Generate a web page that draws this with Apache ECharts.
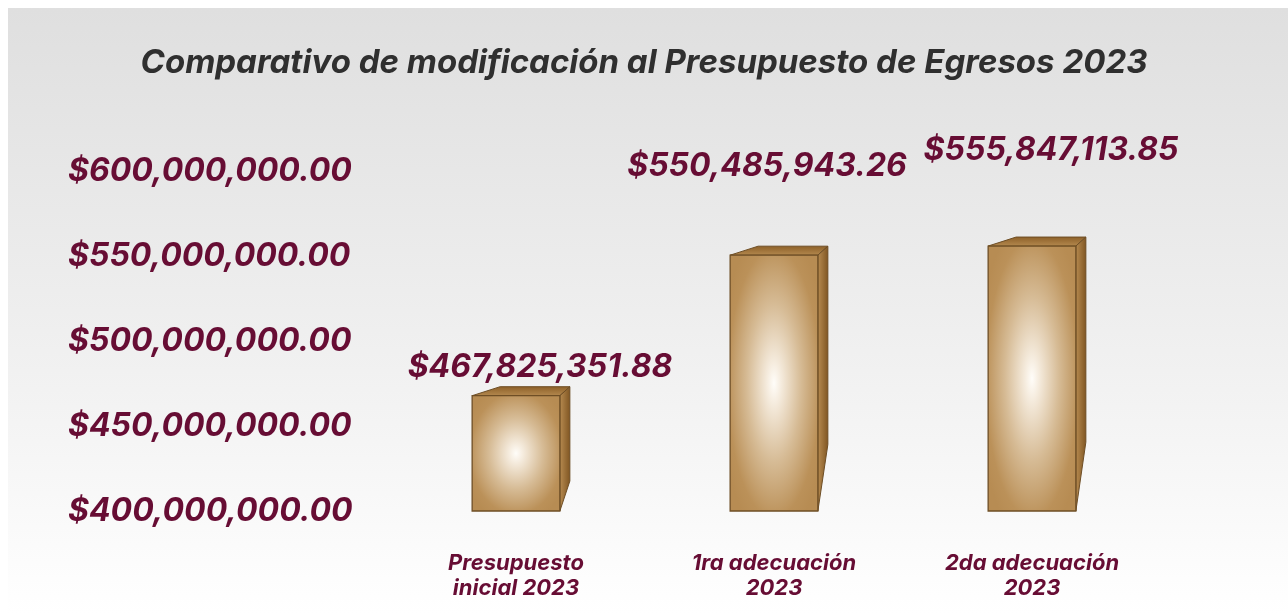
<!DOCTYPE html>
<html><head><meta charset="utf-8">
<script src="https://cdn.jsdelivr.net/npm/echarts@6/dist/echarts.min.js"></script>
<style>html,body{margin:0;padding:0;background:#fff}#c{width:1288px;height:614px}</style>
</head><body><div id="c"></div>
<script>
const categories = ['Presupuesto\ninicial 2023', '1ra adecuación\n2023', '2da adecuación\n2023'];
const values = [467825351.88, 550485943.26, 555847113.85];
const valueLabels = ['$467,825,351.88', '$550,485,943.26', '$555,847,113.85'];
const yTicks = [400000000, 450000000, 500000000, 550000000, 600000000];
const yTickLabels = ['$400,000,000.00', '$450,000,000.00', '$500,000,000.00', '$550,000,000.00', '$600,000,000.00'];

const GUINDA = '#670d34';
const FONT = 'Inter, "Open Sans", sans-serif';
// label placement relative to the bar's front-top centre (layout only)
const labelShift = [[24, -28], [-7, -89], [19, -96]];

function renderItem(params, api) {
  const idx = api.value(0);
  const val = api.value(1);
  const top = api.coord([idx, val]);
  const base = api.coord([idx, yTicks[0]]);
  const band = api.size([1, 0])[0];
  const w = band * 0.34;
  const x0 = top[0] - w / 2, x1 = top[0] + w / 2;
  const y0 = top[1], y1 = base[1];
  const h = y1 - y0;
  const dxb = 28, dxr = 10, dy = 9;
  const sideDrop = h * 0.26;
  const edge = '#6e4e25';
  const sh = labelShift[idx] || [0, -30];
  return {
    type: 'group',
    children: [
      {
        type: 'polygon',
        shape: { points: [[x0, y0], [x0 + dxb, y0 - dy], [x1 + dxr, y0 - dy], [x1, y0]] },
        style: {
          fill: new echarts.graphic.LinearGradient(0, 0, 0, 1, [
            { offset: 0, color: '#8c5f27' }, { offset: 1, color: '#b58a50' }
          ]),
          stroke: edge, lineWidth: 1
        }
      },
      {
        type: 'polygon',
        shape: { points: [[x1, y0], [x1 + dxr, y0 - dy], [x1 + dxr, y1 - sideDrop], [x1, y1]] },
        style: {
          fill: new echarts.graphic.LinearGradient(0, 0, 1, 0, [
            { offset: 0, color: '#b98d52' }, { offset: 1, color: '#7e5421' }
          ]),
          stroke: edge, lineWidth: 1
        }
      },
      {
        type: 'rect',
        x: x0, y: y0, scaleX: 1, scaleY: h / w,
        shape: { x: 0, y: 0, width: w, height: w },
        style: {
          fill: new echarts.graphic.RadialGradient(0.5, 0.5, 0.62, [
            { offset: 0, color: '#fffdf9' },
            { offset: 0.12, color: '#f6ede0' },
            { offset: 0.5, color: '#d6bb95' },
            { offset: 0.85, color: '#bb9159' },
            { offset: 1, color: '#b78c53' }
          ])
        }
      },
      {
        type: 'rect',
        shape: { x: x0, y: y0, width: w, height: h },
        style: { fill: 'none', stroke: edge, lineWidth: 1.3 }
      },
      {
        type: 'text',
        x: top[0] + sh[0], y: y0 + sh[1],
        style: {
          text: valueLabels[idx],
          fill: GUINDA,
          font: 'italic bold 32px ' + FONT,
          align: 'center', verticalAlign: 'middle'
        }
      }
    ]
  };
}

const chart = echarts.init(document.getElementById('c'), null, { renderer: 'canvas' });
chart.setOption({
  animation: false,
  backgroundColor: '#ffffff',
  graphic: [{
    type: 'rect', z: -10, silent: true,
    shape: { x: 8, y: 8, width: 1280, height: 606 },
    style: {
      fill: new echarts.graphic.LinearGradient(0, 0, 0, 1, [
        { offset: 0, color: '#dfdfdf' }, { offset: 0.6, color: '#f1f1f1' }, { offset: 1, color: '#ffffff' }
      ])
    }
  }],
  title: {
    text: 'Comparativo de modificación al Presupuesto de Egresos 2023',
    left: 'center', top: 42,
    textStyle: { fontFamily: FONT, fontStyle: 'italic', fontWeight: 'bold', fontSize: 33, color: '#2f2f2f' }
  },
  grid: { left: 387, right: 127, top: 171, bottom: 103 },
  xAxis: {
    type: 'category', data: categories,
    axisLine: { show: false }, axisTick: { show: false }, splitLine: { show: false },
    axisLabel: {
      margin: 40, fontFamily: FONT, fontStyle: 'italic', fontWeight: 'bold',
      fontSize: 22, lineHeight: 25, color: GUINDA
    }
  },
  yAxis: {
    type: 'value', min: yTicks[0], max: yTicks[yTicks.length - 1], interval: yTicks[1] - yTicks[0],
    axisLine: { show: false }, axisTick: { show: false }, splitLine: { show: false },
    axisLabel: {
      align: 'left', margin: 319, padding: [0, 0, 8, 0],
      fontFamily: FONT, fontStyle: 'italic', fontWeight: 'bold', fontSize: 32, color: GUINDA,
      formatter: function (v) { const i = yTicks.indexOf(v); return i >= 0 ? yTickLabels[i] : ''; }
    }
  },
  series: [{
    type: 'custom',
    clip: false,
    renderItem: renderItem,
    encode: { x: 0, y: 1 },
    data: values.map((v, i) => [i, v])
  }]
});
</script>
</body></html>
